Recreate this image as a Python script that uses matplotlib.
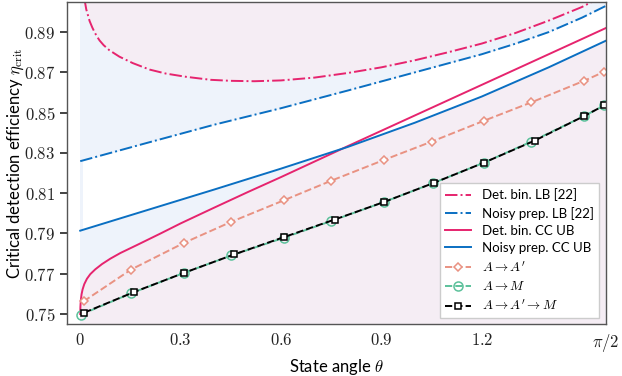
import numpy as np
import matplotlib
matplotlib.use('Agg')
import matplotlib.pyplot as plt

plt.rcParams['font.family'] = ['Lato', 'DejaVu Sans']
plt.rcParams['mathtext.fontset'] = 'cm'

# Det. bin. lower bound [22]
th_det_lb = [0.012, 0.018, 0.028, 0.036, 0.043, 0.05, 0.058, 0.07, 0.087, 0.117, 0.157, 0.207, 0.256, 0.316,
             0.39, 0.45, 0.52, 0.6, 0.7, 0.8, 0.9, 1.0, 1.1, 1.2, 1.3, 1.4, 1.5, 1.54]
eta_det_lb = [0.9070, 0.9013, 0.8955, 0.8923, 0.8899, 0.8878, 0.8858, 0.8835, 0.8810, 0.8778, 0.8746, 0.8714, 0.8694, 0.8678,
              0.8663, 0.8658, 0.8656, 0.8660, 0.8674, 0.8697, 0.8725, 0.8760, 0.8800, 0.8843, 0.8895, 0.8957, 0.9025, 0.9060]

# Noisy prep. lower bound [22]
th_noisy_lb = [0, 0.2, 0.4, 0.6, 0.8, 1.0, 1.2, 1.3, 1.4, 1.5, np.pi / 2]
eta_noisy_lb = [0.8259, 0.8350, 0.8440, 0.8522, 0.8610, 0.8700, 0.8790, 0.8842, 0.8900, 0.8972, 0.9030]

# Det. bin. CC upper bound
th_det_ub = [0, 0.0005, 0.001, 0.002, 0.004, 0.007, 0.012, 0.02, 0.03, 0.045, 0.065, 0.09, 0.12, 0.17,
             0.24, 0.3, 0.4, 0.5, 0.6, 0.7, 0.8, 0.9, 1.0, 1.1, 1.2, 1.3, 1.4, 1.5, np.pi / 2]
eta_det_ub = [0.750, 0.7535, 0.755, 0.7572, 0.7598, 0.7622, 0.7648, 0.7675, 0.7698, 0.7722, 0.7748, 0.7775, 0.7803, 0.7843,
              0.7900, 0.7950, 0.8028, 0.8105, 0.8180, 0.8257, 0.8334, 0.8410, 0.8486, 0.8562, 0.8638, 0.8714, 0.8790,
              0.8866, 0.8920]

# Noisy prep. CC upper bound
th_noisy_ub = [0, 0.2, 0.4, 0.6, 0.8, 1.0, 1.2, 1.4, np.pi / 2]
eta_noisy_ub = [0.7914, 0.8016, 0.8118, 0.8222, 0.8330, 0.8450, 0.8580, 0.8725, 0.8857]

# A -> A'
th_aa = [0.01, 0.152, 0.311, 0.450, 0.609, 0.750, 0.909, 1.050, 1.207, 1.348, 1.507, 1.566]
eta_aa = [0.7563, 0.7721, 0.7854, 0.7957, 0.8065, 0.8162, 0.8266, 0.8356, 0.8460, 0.8551, 0.8659, 0.8703]

# A -> M
th_am = [0.002, 0.152, 0.311, 0.452, 0.609, 0.750, 0.909, 1.053, 1.207, 1.348, 1.507, 1.566]
eta_am = [0.7497, 0.7603, 0.7705, 0.7791, 0.7879, 0.7962, 0.8057, 0.8149, 0.8252, 0.8356, 0.8484, 0.8536]

# A -> A' -> M
th_aam = [0.012, 0.162, 0.311, 0.46, 0.609, 0.76, 0.909, 1.058, 1.207, 1.358, 1.507, 1.566]
eta_aam = [0.7507, 0.7610, 0.7705, 0.7796, 0.7882, 0.7969, 0.8057, 0.8152, 0.8252, 0.8361, 0.8484, 0.8536]

xticks = [0, 0.3, 0.6, 0.9, 1.2, np.pi / 2]
xtick_labels = ['$0$', '$0.3$', '$0.6$', '$0.9$', '$1.2$', r'$\pi/2$']
yticks = [0.75, 0.77, 0.79, 0.81, 0.83, 0.85, 0.87, 0.89]

magenta = '#e6246e'
blue = '#0a6fc2'
salmon = '#e99282'
green = '#5cc19b'
pink_fill = '#f5edf4'
blue_fill = '#eef3fb'

fig = plt.figure(figsize=(6.22, 3.76), dpi=100)
ax = fig.add_axes([0.108, 0.138, 0.866, 0.857])

# shaded regions
ax.axvspan(0, 0.007, color=blue_fill, lw=0, zorder=0)
ax.fill_between(th_noisy_lb, eta_noisy_lb, 1.0, color=blue_fill, lw=0, zorder=0)
ax.fill_between(th_det_lb, eta_det_lb, 1.0, color=pink_fill, lw=0, zorder=0)
below_noisy = ax.fill_between(th_noisy_ub, 0.7, eta_noisy_ub, color=blue_fill, lw=0, zorder=0)
below_det = ax.fill_between(th_det_ub, 0.7, eta_det_ub, color=pink_fill, lw=0, zorder=0)
below_det.set_clip_path(below_noisy.get_paths()[0], ax.transData)

lw = 1.4
ax.plot(th_det_lb, eta_det_lb, '-.', color=magenta, lw=lw, label='Det. bin. LB [22]')
ax.plot(th_noisy_lb, eta_noisy_lb, '-.', color=blue, lw=lw, label='Noisy prep. LB [22]')
ax.plot(th_det_ub, eta_det_ub, '-', color=magenta, lw=lw, label='Det. bin. CC UB')
ax.plot(th_noisy_ub, eta_noisy_ub, '-', color=blue, lw=lw, label='Noisy prep. CC UB')
ax.plot(th_aa, eta_aa, '--', color=salmon, lw=lw, marker='D', ms=4.5, mfc='white', mec=salmon,
        mew=1.1, label=r'$A\to A^\prime$')
ax.plot(th_am, eta_am, '--', color=green, lw=lw, marker='o', ms=6.5, mfc='none', mec=green,
        mew=1.1, label=r'$A\to M$')
ax.plot(th_aam, eta_aam, '--', color='black', lw=lw, marker='s', ms=4.8, mfc='white', mec='black',
        mew=1.1, label=r'$A\to A^\prime\to M$')

ax.set_xlim(-0.039, np.pi / 2)
ax.set_ylim(0.745, 0.905)
ax.set_xticks(xticks)
ax.set_xticklabels(xtick_labels)
ax.set_yticks(yticks)
ax.set_yticklabels(['$%.2f$' % y for y in yticks])
ax.tick_params(axis='x', length=0, pad=6, labelsize=12, colors='#222222')
ax.tick_params(axis='y', length=5, width=1.2, direction='out', labelsize=12, colors='#222222')
for s in ax.spines.values():
    s.set_color('#555555')
    s.set_linewidth(1.0)

ax.set_xlabel(r'State angle $\theta$', fontsize=12, labelpad=2)
ax.set_ylabel(r'Critical detection efficiency $\eta_{\rm crit}$', fontsize=12)
ax.yaxis.set_label_coords(-0.077, 0.5)

leg = ax.legend(loc='lower right', fontsize=9.5, fancybox=False, framealpha=1,
                edgecolor='#cccccc', borderaxespad=0.5, labelspacing=0.4, handlelength=2.0)
leg.get_frame().set_linewidth(1.0)

fig.savefig('out.png', dpi=100)
